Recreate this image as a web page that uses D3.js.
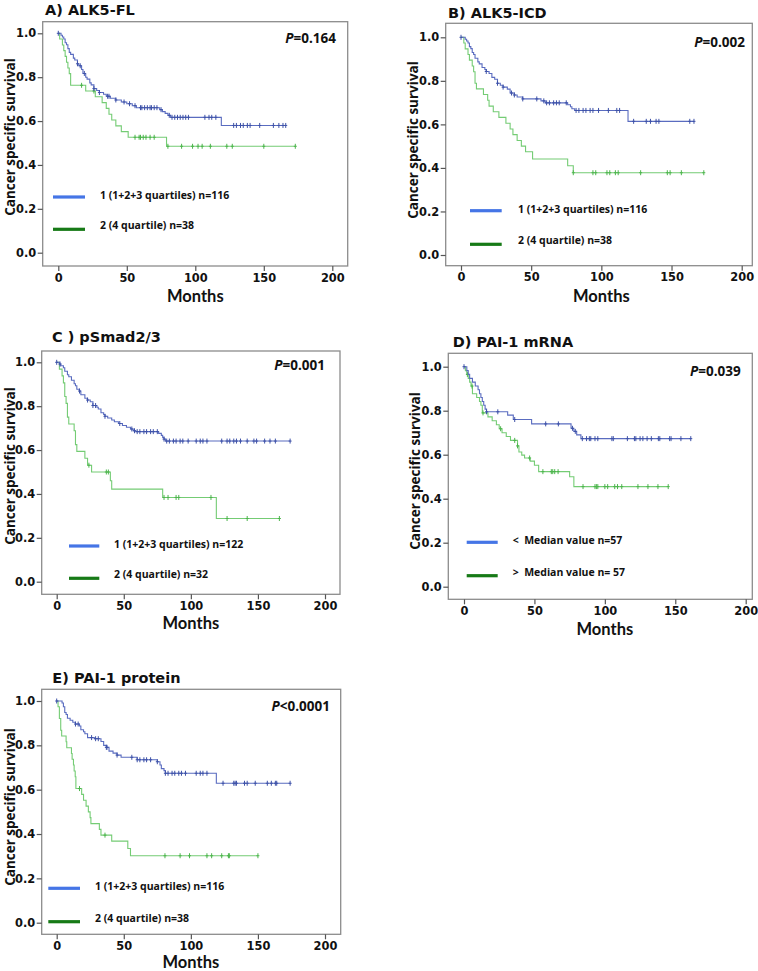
<!DOCTYPE html>
<html><head><meta charset="utf-8">
<script src="https://cdn.jsdelivr.net/npm/d3@7"></script>
<style>
body{margin:0;background:#fff}
svg{display:block}
text{font-family:"Open Sans",sans-serif;font-weight:bold;fill:#111}
</style>
</head><body>
<svg id="chart" width="758" height="971"></svg>
<script>
// ---------------- data ----------------
const xTicks = [0, 50, 100, 150, 200];
const yTicks = [0.0, 0.2, 0.4, 0.6, 0.8, 1.0];
const titles = ["A) ALK5-FL", "B) ALK5-ICD", "C ) pSmad2/3", "D) PAI-1 mRNA", "E) PAI-1 protein"];
const pSymbols = ["=0.164", "=0.002", "=0.001", "=0.039", "<0.0001"];
const blueLabels = ["1 (1+2+3 quartiles) n=116", "1 (1+2+3 quartiles) n=116", "1 (1+2+3 quartiles) n=122", "<  Median value n=57", "1 (1+2+3 quartiles) n=116"];
const greenLabels = ["2 (4 quartile) n=38", "2 (4 quartile) n=38", "2 (4 quartile) n=32", ">  Median value n= 57", "2 (4 quartile) n=38"];

// Kaplan-Meier steps: [month, survival after event]
const aBlueSteps = [[0,1],[2,0.991],[3,0.983],[4,0.974],[5,0.957],[6,0.948],[7,0.930],[8,0.913],[9,0.904],[11,0.887],[12,0.878],[14,0.861],[15,0.852],[17,0.835],[18,0.817],[20,0.800],[21,0.791],[23,0.774],[24,0.765],[26,0.748],[28,0.739],[30,0.730],[33,0.722],[35,0.713],[38,0.704],[42,0.696],[46,0.687],[50,0.679],[54,0.670],[57,0.661],[74,0.652],[76,0.643],[78,0.635],[80,0.626],[82,0.617],[119,0.580]];
const aBlueCensor = [0,14,16,19,26,30,36,37,42,48,52,56,60,61,63,65,67,68,70,72,75,81,83,85,87,89,91,93,95,107,110,112,115,128,130,133,135,138,140,147,157,161,164,166];
const aGreenSteps = [[0,1],[1,0.974],[3,0.947],[4,0.921],[5,0.895],[6,0.868],[7,0.842],[8,0.816],[9,0.763],[20,0.737],[27,0.711],[32,0.684],[35,0.658],[37,0.631],[39,0.605],[42,0.578],[46,0.552],[51,0.526],[79,0.485]];
const aGreenCensor = [17,26,56,59,60,62,64,67,70,80,90,98,102,105,111,123,127,150,173];

const bBlueSteps = [[0,1],[3,0.991],[4,0.983],[5,0.974],[6,0.957],[7,0.948],[8,0.930],[9,0.921],[10,0.904],[12,0.887],[13,0.878],[15,0.861],[17,0.852],[18,0.843],[20,0.834],[22,0.816],[24,0.807],[26,0.789],[28,0.780],[30,0.771],[33,0.762],[35,0.744],[38,0.735],[40,0.726],[44,0.717],[57,0.708],[60,0.699],[76,0.690],[78,0.681],[79,0.672],[81,0.664],[119,0.614]];
const bBlueCensor = [0,18,26,30,36,38,44,54,59,61,63,66,68,70,75,82,84,87,89,92,94,98,105,111,113,123,132,135,139,141,163,166];
const bGreenSteps = [[0,1],[2,0.974],[3,0.947],[5,0.921],[6,0.895],[8,0.868],[9,0.842],[10,0.789],[11,0.763],[16,0.737],[19,0.711],[20,0.684],[23,0.658],[27,0.632],[32,0.605],[35,0.579],[37,0.553],[40,0.526],[43,0.500],[46,0.474],[51,0.441],[76,0.410],[80,0.378]];
const bGreenCensor = [80,94,96,104,106,110,112,128,147,149,157,173];

const cBlueSteps = [[0,1],[2,0.992],[3,0.984],[5,0.975],[6,0.959],[8,0.943],[9,0.934],[11,0.918],[13,0.902],[14,0.893],[15,0.877],[17,0.869],[18,0.852],[21,0.836],[23,0.828],[25,0.820],[27,0.803],[30,0.795],[31,0.787],[33,0.770],[35,0.762],[36,0.754],[38,0.746],[41,0.737],[43,0.729],[46,0.721],[49,0.712],[52,0.704],[55,0.696],[57,0.688],[59,0.684],[76,0.676],[78,0.667],[79,0.658],[80,0.650],[81,0.641]];
const cBlueCensor = [0,2.5,17,23,27,29,36,47,56,58,60,62,65,67,70,72,75,80,82,84,87,89,92,94,98,104,107,109,112,123,127,129,132,134,137,142,147,149,155,159,163,174];
const cGreenSteps = [[0,1],[2,0.969],[4,0.938],[5,0.906],[6,0.844],[7,0.813],[8,0.750],[9,0.719],[13,0.688],[14,0.625],[15,0.594],[21,0.563],[23,0.531],[26,0.500],[40,0.460],[41,0.422],[79,0.384],[119,0.288]];
const cGreenCensor = [24,37,38.5,80,83,89,91,115,127,142,166];

const dBlueSteps = [[0,1],[2,0.982],[3,0.965],[4,0.947],[6,0.930],[8,0.912],[10,0.895],[11,0.877],[12,0.860],[13,0.842],[14,0.825],[15,0.807],[16,0.795],[31,0.780],[35,0.760],[48,0.740],[76,0.720],[78,0.706],[80,0.690],[83,0.673]];
const dBlueCensor = [0,16,24,36,58,67,77,79,84,87,89,90,93,95,105,106,116,121,122,125,127,130,133,138,139,146,147,154,161];
const dGreenSteps = [[0,1],[1,0.982],[2,0.965],[3,0.947],[4,0.930],[5,0.912],[6,0.877],[9,0.860],[11,0.842],[12,0.825],[13,0.790],[17,0.772],[20,0.754],[23,0.736],[25,0.718],[27,0.700],[30,0.683],[33,0.665],[38,0.640],[39,0.612],[41,0.598],[43,0.585],[47,0.571],[50,0.552],[53,0.523],[75,0.500],[78,0.455]];
const dGreenCensor = [2.4,5.7,13.5,26,36,38,46.6,56,62,63,64.4,66.8,84.5,93,94,95,100,102,107,109,112,123.5,130.6,137.7,145];

const eBlueSteps = [[0,1],[4,0.991],[5,0.974],[6,0.948],[7,0.939],[8,0.922],[10,0.913],[12,0.904],[14,0.896],[17,0.887],[18,0.870],[20,0.861],[21,0.852],[23,0.835],[28,0.830],[33,0.817],[35,0.800],[37,0.791],[39,0.774],[42,0.765],[45,0.756],[48,0.746],[60,0.735],[75,0.726],[77,0.711],[78,0.695],[80,0.686],[81,0.674],[119,0.629]];
const eBlueCensor = [0,14,16,26,29,31,37,37.5,45,56,60,62,65,67,70,75,81,83,86,88,91,93,96,104,107,109,112,124,132,133,134,140,142,148,157,160,163,164,174];
const eGreenSteps = [[0,1],[1,0.974],[2,0.921],[3,0.868],[3.7,0.842],[7,0.816],[7.5,0.789],[11,0.763],[11.5,0.737],[12.5,0.711],[13,0.684],[13.8,0.658],[14.3,0.605],[18.6,0.579],[20,0.552],[21.9,0.526],[23.6,0.500],[24.9,0.474],[25.5,0.447],[31.8,0.421],[33,0.395],[41,0.368],[53,0.335],[55,0.302]];
const eGreenCensor = [17,36,80.7,92,99,112,115.5,123,128,128.7,150];

const blueSteps = [aBlueSteps, bBlueSteps, cBlueSteps, dBlueSteps, eBlueSteps];
const blueCensor = [aBlueCensor, bBlueCensor, cBlueCensor, dBlueCensor, eBlueCensor];
const greenSteps = [aGreenSteps, bGreenSteps, cGreenSteps, dGreenSteps, eGreenSteps];
const greenCensor = [aGreenCensor, bGreenCensor, cGreenCensor, dGreenCensor, eGreenCensor];

// ---------------- layout (pixels) ----------------
const layout = [
  {fx0:42.7, fy0:21.7, fx1:347.7, fy1:266,   x0:58.3, x1:332.3, y0:252.7, y1:33.3, tx:45,   ty:15,   ly:137, lx:14.7,  my:302, px:336,  py:43,  legX0:53,   legX1:85,   legT:100, bY:197,   gY:229.3},
  {fx0:445.7,fy0:23.3, fx1:752.3, fy1:265.7, x0:461,  x1:741.7, y0:255,   y1:37.3, tx:448,  ty:17.5, ly:140, lx:417.5, my:302, px:745,  py:46.5,legX0:470,  legX1:501.7,legT:518, bY:210.7, gY:244.3},
  {fx0:41.7, fy0:351,  fx1:340,   fy1:594.3, x0:56.7, x1:325,   y0:581.7, y1:362.3,tx:52,   ty:342,  ly:466, lx:14.7,  my:629, px:325,  py:370, legX0:69,   legX1:99.3, legT:114, bY:546,   gY:578.3},
  {fx0:448.3,fy0:353.3,fx1:752.3, fy1:599.3, x0:464,  x1:745.7, y0:586.7, y1:366.7,tx:452.7,ty:346.5,ly:471, lx:420,   my:635, px:740.7,py:376, legX0:466.7,legX1:497.7,legT:512.7,bY:542.3, gY:575.7},
  {fx0:41.7, fy0:689.3,fx1:340.7, fy1:934.3, x0:56.7, x1:325,   y0:922.7, y1:701,  tx:52.3, ty:682.5,ly:807, lx:14.7,  my:967.5, px:330, py:711, legX0:48.3, legX1:80,   legT:95,  bY:888.3, gY:921.7}
];

const curveBlue = "#5a6cc0", censorBlue = "#3e52a8";
const curveGreen = "#74cc74", censorGreen = "#4db54d";
const legBlue = "#4575e6", legGreen = "#177a17";
const dejavu = "'DejaVu Sans',sans-serif";

const svg = d3.select("#chart");
const defs = svg.append("defs");
defs.append("filter").attr("id","soft").append("feGaussianBlur").attr("stdDeviation",0.6);

function survAt(steps, t) {
  let s = 1;
  for (const [tt, ss] of steps) { if (tt <= t) s = ss; else break; }
  return s;
}

layout.forEach((L, i) => {
  const g = svg.append("g");
  const x = d3.scaleLinear().domain([0, 200]).range([L.x0, L.x1]);
  const y = d3.scaleLinear().domain([0, 1]).range([L.y0, L.y1]);

  // frame
  g.append("rect").attr("x", L.fx0).attr("y", L.fy0)
    .attr("width", L.fx1 - L.fx0).attr("height", L.fy1 - L.fy0)
    .attr("fill", "none").attr("stroke", "#8c8c8c").attr("stroke-width", 1.3);

  // axes
  const yAxis = d3.axisLeft(y).tickValues(yTicks).tickFormat(d3.format(".1f")).tickSize(5).tickPadding(1.5);
  const ya = g.append("g").attr("transform", `translate(${L.fx0},0)`).call(yAxis);
  const xAxis = d3.axisBottom(x).tickValues(xTicks).tickFormat(d3.format("d")).tickSize(5).tickPadding(2.5);
  const xa = g.append("g").attr("transform", `translate(0,${L.fy1})`).call(xAxis);
  [ya, xa].forEach(a => {
    a.select(".domain").remove();
    a.selectAll(".tick line").attr("stroke", "#555").attr("stroke-width", 1.2);
    a.selectAll(".tick text").style("font-size", "11.4px").style("font-family", dejavu)
      .style("font-weight", "bold").attr("fill", "#111");
  });

  // title
  g.append("text").attr("x", L.tx).attr("y", L.ty).style("font-family", dejavu)
    .style("font-size", "14.5px").text(titles[i]);
  // axis titles
  g.append("text").attr("transform", `translate(${L.lx},${L.ly}) rotate(-90)`)
    .attr("text-anchor", "middle").style("font-size", "13.5px").text("Cancer specific survival");
  g.append("text").attr("x", (L.x0 + L.x1) / 2).attr("y", L.my)
    .attr("text-anchor", "middle").style("font-family", "Lato,sans-serif")
    .style("font-size", "16.5px").text("Months");

  // P value
  const pt = g.append("text").attr("x", L.px).attr("y", L.py).attr("text-anchor", "end").style("font-size", "13.5px");
  pt.append("tspan").style("font-style", "italic").text("P");
  pt.append("tspan").text(pSymbols[i]);

  // curves
  const line = d3.line().x(d => x(d[0])).y(d => y(d[1])).curve(d3.curveStepAfter);
  const series = [
    {steps: greenSteps[i], cens: greenCensor[i], c: curveGreen, cc: censorGreen},
    {steps: blueSteps[i], cens: blueCensor[i], c: curveBlue, cc: censorBlue}
  ];
  series.forEach(s => {
    const end = d3.max(s.cens);
    const pts = s.steps.concat([[end, s.steps[s.steps.length - 1][1]]]);
    g.append("path").attr("d", line(pts)).attr("fill", "none")
      .attr("stroke", s.c).attr("stroke-width", 1.1);
    g.selectAll(null).data(s.cens).enter().append("path")
      .attr("d", t => {
        const cx = x(t), cy = y(survAt(s.steps, t));
        return `M${cx},${cy - 2.5}V${cy + 2.5}M${cx - 1.5},${cy}H${cx + 1.5}`;
      })
      .attr("stroke", s.cc).attr("stroke-width", 1).attr("fill", "none");
  });

  // legend
  [[L.bY, legBlue, blueLabels[i]], [L.gY, legGreen, greenLabels[i]]].forEach(([yy, col, lab], k) => {
    g.append("line").attr("x1", L.legX0).attr("x2", L.legX1).attr("y1", yy + 1).attr("y2", yy + 1)
      .attr("stroke", "#c4c4c4").attr("stroke-width", 3.4).attr("filter", "url(#soft)");
    g.append("line").attr("x1", L.legX0).attr("x2", L.legX1).attr("y1", yy).attr("y2", yy)
      .attr("stroke", col).attr("stroke-width", 3.2);
    g.append("text").attr("x", L.legT).attr("y", yy + (k === 0 ? 2 : 0))
      .style("font-size", "10.5px").style("white-space", "pre").text(lab);
  });
});
</script>
</body></html>
